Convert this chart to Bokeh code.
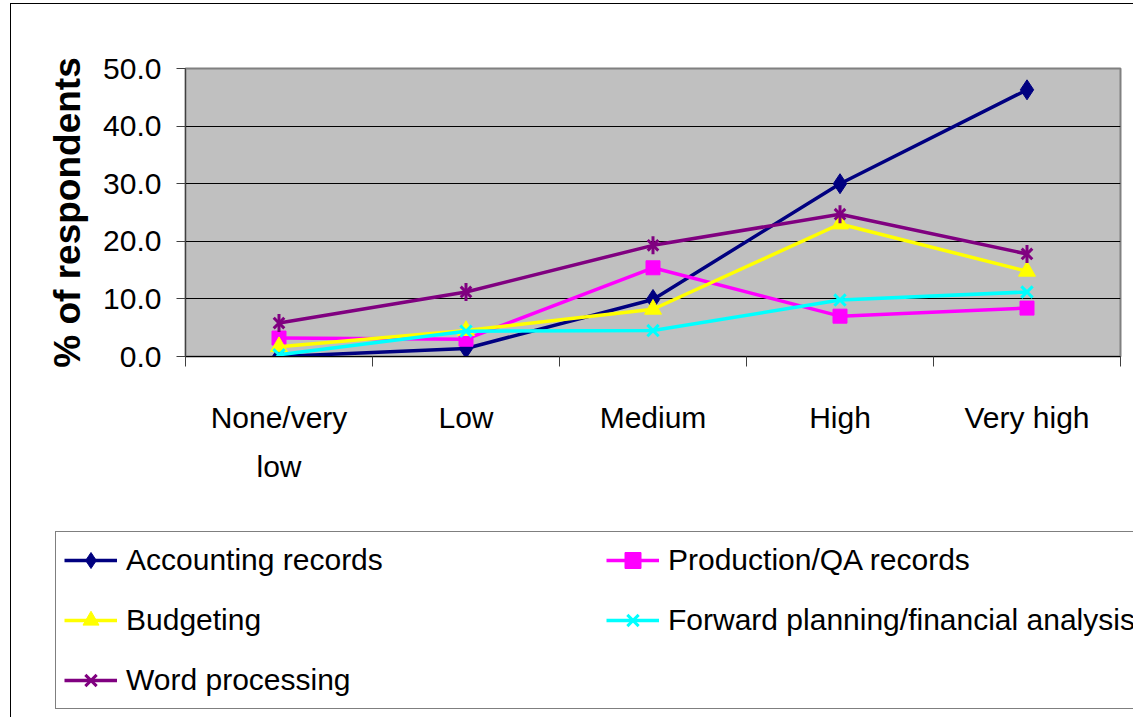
import math
from bokeh.plotting import figure
from bokeh.models import Range1d, FixedTicker, Legend, LegendItem
from bokeh.embed import file_html
from bokeh.resources import INLINE

# ---- data ----
categories = ["None/very\nlow", "Low", "Medium", "High", "Very high"]
accounting = [0.0, 1.4, 9.9, 30.0, 46.3]
production = [3.2, 3.0, 15.4, 7.0, 8.4]
budgeting = [1.7, 4.5, 8.2, 23.0, 14.8]
forward = [0.3, 4.4, 4.5, 9.8, 11.2]
word = [5.8, 11.2, 19.3, 24.7, 17.8]
y_ticks = [0, 10, 20, 30, 40, 50]
series_names = ["Accounting records", "Production/QA records", "Budgeting",
                "Forward planning/financial analysis", "Word processing"]

xs = [i + 0.5 for i in range(len(categories))]

FONT = "Liberation Sans"
FS = "30px"
LW = 3.5

p = figure(width=1123, height=497,
           x_range=Range1d(0, len(categories)), y_range=Range1d(0, 50),
           output_backend="svg", toolbar_location=None,
           min_border_left=174, min_border_right=14,
           min_border_top=64, min_border_bottom=145,
           background_fill_color="#C0C0C0", border_fill_color="white",
           outline_line_color="#808080", outline_line_width=2,
           margin=(3, 0, 0, 10),
           styles={"border-left": "1px solid black", "border-top": "1px solid black"})

# grid
p.xgrid.visible = False
p.ygrid.ticker = FixedTicker(ticks=y_ticks)
p.ygrid.grid_line_color = "black"
p.ygrid.grid_line_width = 1

# x axis
p.xaxis.ticker = FixedTicker(ticks=xs, minor_ticks=list(range(len(categories) + 1)))
p.xaxis.major_label_overrides = {x: c for x, c in zip(xs, categories)}
p.xaxis.major_tick_out = 0
p.xaxis.major_tick_in = 0
p.xaxis.minor_tick_out = 10
p.xaxis.minor_tick_in = 0
p.xaxis.minor_tick_line_color = "#404040"
p.xaxis.axis_line_color = "black"
p.xaxis.major_label_standoff = 34
p.xaxis.major_label_text_font = FONT
p.xaxis.major_label_text_font_size = FS
p.xaxis.major_label_text_color = "black"
p.xaxis.major_label_text_line_height = 1.5

# y axis
p.yaxis.ticker = FixedTicker(ticks=y_ticks, minor_ticks=[])
p.yaxis.major_label_overrides = {t: f"{t:.1f}" for t in y_ticks}
p.yaxis.major_tick_out = 9
p.yaxis.major_tick_in = 0
p.yaxis.major_tick_line_color = "#404040"
p.yaxis.axis_line_color = "#404040"
p.yaxis.major_label_standoff = 15
p.yaxis.major_label_text_font = FONT
p.yaxis.major_label_text_font_size = FS
p.yaxis.major_label_text_color = "black"
p.yaxis.axis_label = "% of respondents"
p.yaxis.axis_label_text_font = FONT
p.yaxis.axis_label_text_font_style = "bold"
p.yaxis.axis_label_text_font_size = "37px"
p.yaxis.axis_label_text_color = "black"
p.yaxis.axis_label_standoff = 12


def draw_series(fig):
    l1 = fig.line(xs, accounting, line_color="#000080", line_width=LW)
    m1 = fig.scatter(xs, accounting, marker="diamond", size=20, color="#000080")
    l2 = fig.line(xs, production, line_color="#FF00FF", line_width=LW)
    m2 = fig.scatter(xs, production, marker="square", size=14, color="#FF00FF")
    l3 = fig.line(xs, budgeting, line_color="#FFFF00", line_width=LW)
    m3 = fig.scatter(xs, budgeting, marker="triangle", size=17, color="#FFFF00")
    l4 = fig.line(xs, forward, line_color="#00FFFF", line_width=LW)
    m4 = fig.scatter(xs, forward, marker="x", size=16, line_color="#00FFFF", line_width=3)
    l5 = fig.line(xs, word, line_color="#800080", line_width=LW)
    m5 = fig.scatter(xs, word, marker="x", size=15, line_color="#800080", line_width=3)
    m5b = fig.scatter(xs, word, marker="dash", size=18, angle=math.pi / 2,
                      line_color="#800080", line_width=3)
    return [[l1, m1], [l2, m2], [l3, m3], [l4, m4], [l5, m5, m5b]]


draw_series(p)

# ---- legend panel: separate root figure so the legend isn't clipped ----
lg = figure(width=1123, height=217,
            x_range=Range1d(100, 101), y_range=Range1d(100, 101),
            output_backend="svg", toolbar_location=None,
            min_border=0, min_border_left=0, min_border_right=0,
            min_border_top=0, min_border_bottom=0,
            outline_line_color=None, background_fill_color="white",
            border_fill_color="white",
            margin=(0, 0, 0, 10),
            styles={"border-left": "1px solid black"})
lg.axis.visible = False
lg.grid.visible = False
rends = draw_series(lg)

legend = Legend(items=[LegendItem(label=n, renderers=r) for n, r in zip(series_names, rends)],
                location=(44, 8), orientation="horizontal", ncols=2)
legend.label_text_font = FONT
legend.label_text_font_size = FS
legend.label_text_color = "black"
legend.label_height = 40
legend.label_width = 460
legend.label_standoff = 9
legend.glyph_width = 53
legend.glyph_height = 40
legend.spacing = 20
legend.padding = 8
legend.margin = 0
legend.border_line_color = "black"
legend.border_line_width = 1
legend.background_fill_color = "white"
legend.background_fill_alpha = 1
lg.add_layout(legend, "center")

open("out.html", "w").write(file_html([p, lg], INLINE))
